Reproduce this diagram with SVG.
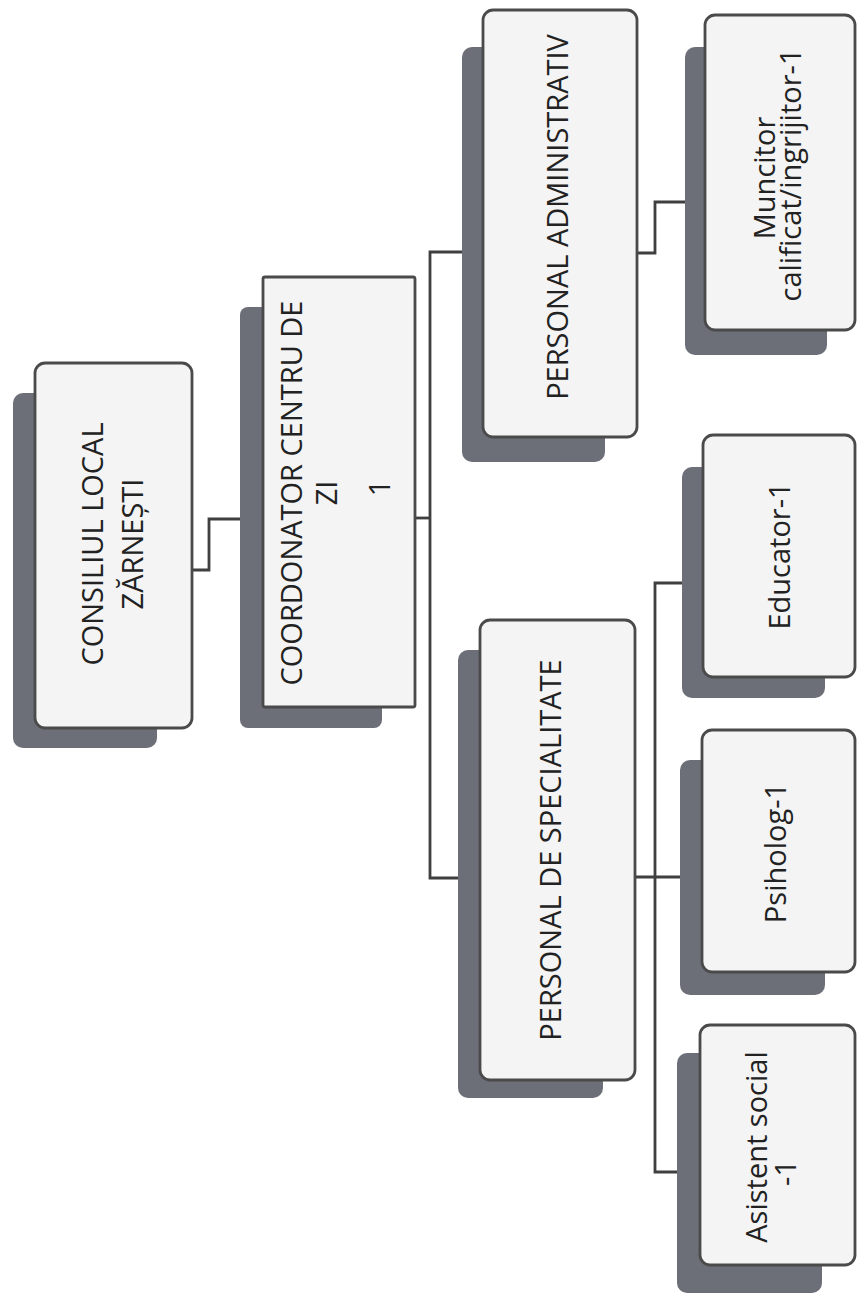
<svg xmlns="http://www.w3.org/2000/svg" width="858" height="1302" viewBox="0 0 858 1302">
<style>
.sh{fill:#6c6f77}
.bx{fill:#f4f4f4;stroke:#4a4a4a;stroke-width:2.8}
.t{font-family:"Open Sans","Liberation Sans",sans-serif;font-size:29px;fill:#222;text-anchor:middle}
.c{fill:none;stroke:#3f3f3f;stroke-width:2.8}
</style>
<rect width="858" height="1302" fill="#ffffff"/>
<g id="connectors">
<path class="c" d="M192,570 H209 V519 H240"/>
<path class="c" d="M415,518 H430"/>
<path class="c" d="M462,252 H430 V878 H458"/>
<path class="c" d="M637,253 H655 V202 H685"/>
<path class="c" d="M635,877 H680"/>
<path class="c" d="M682,583 H655 V1172 H677"/>
</g>
<g id="n1">
<rect class="sh" x="13" y="393" width="144" height="355" rx="10"/>
<rect class="bx" x="35" y="363" width="157" height="365" rx="10"/>
<text class="t" transform="translate(103,544) rotate(-90)">CONSILIUL LOCAL</text>
<text class="t" transform="translate(143,544) rotate(-90)">ZĂRNEȘTI</text>
</g>
<g id="n2">
<rect class="sh" x="240" y="307" width="142" height="421" rx="8"/>
<rect class="bx" x="263" y="277" width="152" height="430" rx="2"/>
<text class="t" transform="translate(302,493) rotate(-90)">COORDONATOR CENTRU DE</text>
<text class="t" transform="translate(337,493) rotate(-90)">ZI</text>
<text class="t" transform="translate(390,488) rotate(-90)">1</text>
</g>
<g id="n3">
<rect class="sh" x="462" y="47" width="143" height="415" rx="10"/>
<rect class="bx" x="483" y="10" width="154" height="427" rx="10"/>
<text class="t" transform="translate(568,217) rotate(-90)">PERSONAL ADMINISTRATIV</text>
</g>
<g id="n4">
<rect class="sh" x="458" y="650" width="145" height="448" rx="10"/>
<rect class="bx" x="480" y="620" width="155" height="460" rx="10"/>
<text class="t" transform="translate(561,850) rotate(-90)">PERSONAL DE SPECIALITATE</text>
</g>
<g id="n5">
<rect class="sh" x="685" y="47" width="142" height="308" rx="10"/>
<rect class="bx" x="705" y="15" width="150" height="315" rx="10"/>
<text class="t" transform="translate(775,178) rotate(-90)">Muncitor</text>
<text class="t" transform="translate(801,175) rotate(-90)">calificat/ingrijitor-1</text>
</g>
<g id="n6">
<rect class="sh" x="682" y="467" width="143" height="231" rx="10"/>
<rect class="bx" x="703" y="435" width="152" height="242" rx="10"/>
<text class="t" transform="translate(790,556) rotate(-90)">Educator-1</text>
</g>
<g id="n7">
<rect class="sh" x="680" y="760" width="145" height="235" rx="10"/>
<rect class="bx" x="702" y="730" width="153" height="242" rx="10"/>
<text class="t" transform="translate(786,853) rotate(-90)">Psiholog-1</text>
</g>
<g id="n8">
<rect class="sh" x="677" y="1053" width="145" height="240" rx="10"/>
<rect class="bx" x="700" y="1025" width="155" height="240" rx="10"/>
<text class="t" transform="translate(767,1147) rotate(-90)">Asistent social</text>
<text class="t" transform="translate(796,1173) rotate(-90)">-1</text>
</g>
</svg>
